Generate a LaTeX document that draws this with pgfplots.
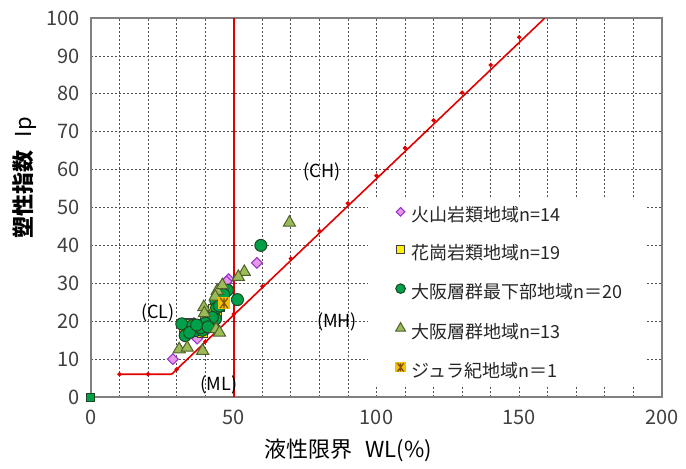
\documentclass[border=0pt]{standalone}
\usepackage{fontspec}
\setmainfont{Noto Sans CJK JP}
\usepackage{pgfplots}
\pgfplotsset{compat=1.18}
\usetikzlibrary{plotmarks}

\definecolor{lred}{HTML}{E00000}
\definecolor{gridc}{HTML}{505050}
\definecolor{volf}{HTML}{E699E6}
\definecolor{vold}{HTML}{9933CC}
\definecolor{grnf}{HTML}{00A04A}
\definecolor{grnd}{HTML}{1E4620}
\definecolor{trif}{HTML}{9BBB59}
\definecolor{trid}{HTML}{4F6228}
\definecolor{jurf}{HTML}{F5C000}
\definecolor{jurd}{HTML}{7F4F00}

% gold square with an asterisk on it
\pgfdeclareplotmark{sqast}{%
  \pgfpathrectangle{\pgfqpoint{-\pgfplotmarksize}{-\pgfplotmarksize}}{\pgfqpoint{2\pgfplotmarksize}{2\pgfplotmarksize}}%
  \pgfusepathqfill
  \pgfpathmoveto{\pgfqpoint{-0.6\pgfplotmarksize}{-0.8\pgfplotmarksize}}%
  \pgfpathlineto{\pgfqpoint{0.6\pgfplotmarksize}{0.8\pgfplotmarksize}}%
  \pgfpathmoveto{\pgfqpoint{-0.6\pgfplotmarksize}{0.8\pgfplotmarksize}}%
  \pgfpathlineto{\pgfqpoint{0.6\pgfplotmarksize}{-0.8\pgfplotmarksize}}%
  \pgfpathmoveto{\pgfqpoint{0pt}{-0.8\pgfplotmarksize}}%
  \pgfpathlineto{\pgfqpoint{0pt}{0.8\pgfplotmarksize}}%
  \pgfusepathqstroke
}

\begin{document}
\begin{tikzpicture}
\useasboundingbox (-45.5pt,-35.5pt) rectangle (297.5pt,198.5pt);
\begin{axis}[
    scale only axis,
    width=285.5pt, height=189.5pt,
    xmin=0, xmax=200, ymin=0, ymax=100,
    xtick={0,50,...,200}, minor x tick num=4,
    ytick={0,10,...,100},
    grid=both,
    major grid style={gridc, line width=0.4pt, dash pattern=on 1.2pt off 0.8pt},
    minor grid style={gridc, line width=0.4pt, dash pattern=on 1.2pt off 0.8pt},
    major tick length=0pt, minor tick length=0pt,
    axis line style={draw=gray, line width=0.7pt},
    /pgf/number format/assume math mode=true,
    tick label style={font=\fontsize{10}{12}\selectfont, text=black!75},
    yticklabel style={xshift=-2pt},
    xticklabel style={yshift=-3pt},
    xlabel={液性限界\hspace{0.6em}WL(\%)},
    ylabel={{\bfseries 塑性指数}\hspace{0.6em}Ip},
    xlabel style={font=\fontsize{11}{13}\selectfont, at={(axis description cs:0.45,-0.14)}, anchor=center},
    ylabel style={font=\fontsize{11}{13}\selectfont, at={(axis description cs:-0.116,0.578)}, anchor=center, rotate=0},
    legend style={at={(axis cs:106.5,50.1)}, anchor=north west, draw=none, fill=none,
        inner sep=0pt, row sep=10pt, column sep=3pt,
        font=\fontsize{9}{10}\selectfont, text=black!85,
        nodes={inner sep=0pt, text height=7pt, text depth=2pt}},
    legend cell align=left,
    legend image code/.code={\draw[#1, every mark/.append style={scale=0.8}] plot coordinates {(2.5pt,2.5pt)};},
]
% white legend background
\fill[white] (axis cs:97,2.6) rectangle (axis cs:194.7,52.8);

% A-line
\addplot[lred, line width=0.8pt, forget plot] coordinates {
    (10,6) (28.22,6) (158.97,100)
};
\addplot[lred, only marks, mark=*, mark size=0.9pt, forget plot] coordinates {
    (10,6) (20,6) (30,7.3) (40,14.6) (50,21.9) (60,29.2) (70,36.5) (80,43.8)
    (90,51.1) (100,58.4) (110,65.7) (120,73.0) (130,80.3) (140,87.6) (150,94.9)
};
% WL = 50
\addplot[lred, line width=1pt, forget plot] coordinates {(50,0) (50,100)};

% 火山岩類地域
\addplot[only marks, mark=square*, mark size=1.9pt,
    mark options={rotate=45, fill=volf, draw=vold, line width=0.5pt}] coordinates {
    (28.7,10.0) (58.1,35.4) (48.2,31.1) (46.9,29.8) (45.8,29.3) (44.5,27.0)
    (39.3,19.6) (37.2,15.4) (35.0,17.5) (42.0,22.0) (36.0,19.5) (47.5,30.5)
    (41.0,18.0) (33.5,16.0)
};
\addlegendentry{火山岩類地域n=14}
% 花崗岩類地域
\addplot[only marks, mark=square*, mark size=2.5pt,
    mark options={fill=yellow, draw=black!75, line width=0.5pt}] coordinates {
    (32.9,18.3) (42.3,21.6) (42.8,19.4) (46.3,25.1) (36.0,18.5) (38.0,18.0)
    (40.0,20.0) (44.0,22.0) (45.0,24.0) (34.0,17.5) (37.0,19.0) (41.0,21.0)
    (43.0,23.0) (39.0,17.0) (35.0,19.5) (44.5,25.5) (46.0,26.5) (40.5,18.5)
    (33.5,19.0)
};
\addlegendentry{花崗岩類地域n=19}
% 大阪層群最下部地域
\addplot[only marks, mark=*, mark size=3pt,
    mark options={fill=grnf, draw=grnd, line width=0.5pt}] coordinates {
    (59.5,40.0) (51.3,25.7) (47.8,28.2) (45.5,26.0) (43.7,25.4) (44.0,23.5)
    (43.6,20.6) (31.8,19.3) (33.0,16.2) (35.7,18.9) (36.5,17.5) (39.0,17.6)
    (38.5,18.3) (42.5,21.0) (40.0,19.5) (34.5,17.0) (45.0,24.0) (46.5,27.0)
    (37.0,19.0) (41.0,18.5)
};
\addlegendentry{大阪層群最下部地域n＝20}
% 大阪層群地域
\addplot[only marks, mark=triangle*, mark size=3.5pt,
    mark options={fill=trif, draw=trid, line width=0.5pt}] coordinates {
    (69.5,46.0) (53.7,33.0) (51.6,31.7) (44.2,28.0) (43.5,26.5) (39.5,23.7)
    (39.7,22.1) (43.8,17.9) (45.0,17.0) (30.9,12.6) (33.7,13.0) (39.1,12.2)
    (46.0,29.5)
};
\addlegendentry{大阪層群地域n=13}
% ジュラ紀地域
\addplot[only marks, mark=sqast, mark size=3.2pt,
    mark options={fill=jurf, draw=jurd, line width=0.6pt}] coordinates {
    (46.6,24.8)
};
\addlegendentry{ジュラ紀地域n＝1}
% point at the origin
\addplot[only marks, mark=square*, mark size=2pt,
    mark options={fill=grnf, draw=grnd, line width=0.5pt}, forget plot] coordinates {
    (0,0)
};

\node[font=\fontsize{9}{10}\selectfont] at (axis cs:80.9,59.4) {(CH)};
\node[font=\fontsize{9}{10}\selectfont] at (axis cs:23.5,22.2) {(CL)};
\node[font=\fontsize{9}{10}\selectfont] at (axis cs:86.2,19.8) {(MH)};
\node[font=\fontsize{9}{10}\selectfont] at (axis cs:44.8,3.2) {(ML)};
\end{axis}
\end{tikzpicture}
\end{document}
